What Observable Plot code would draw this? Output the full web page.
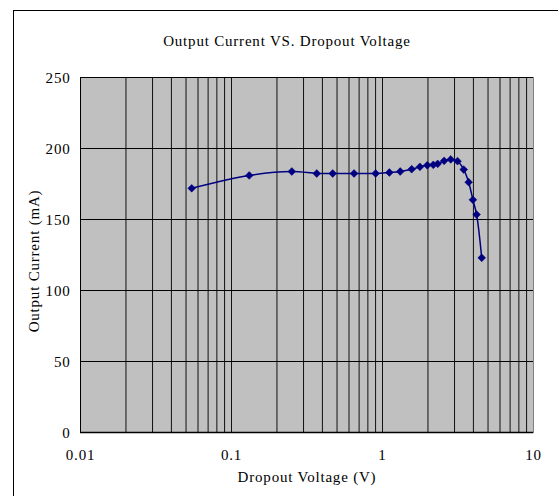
<!DOCTYPE html>
<html>
<head>
<meta charset="utf-8">
<script src="https://cdn.jsdelivr.net/npm/d3@7"></script>
<script src="https://cdn.jsdelivr.net/npm/@observablehq/plot@0.6"></script>
<style>
  html, body { margin: 0; padding: 0; background: #fff; }
  #wrap { position: relative; width: 558px; height: 496px; overflow: hidden; }
  #border { position: absolute; left: 13px; top: 10px; width: 700px; height: 700px;
            border-left: 1px solid #000; border-top: 1px solid #000; box-sizing: border-box; }
  #chart { position: absolute; left: 0; top: 0; }
  svg text { letter-spacing: 0.8px; }
</style>
</head>
<body>
<div id="wrap"><div id="border"></div><div id="chart"></div></div>
<script>
const title = "Output Current VS. Dropout Voltage";
const xLabel = "Dropout Voltage (V)";
const yLabel = "Output Current (mA)";

const dropoutVoltage = [0.0545, 0.131, 0.251, 0.367, 0.468, 0.648, 0.901, 1.11, 1.31, 1.56, 1.77, 1.98, 2.17, 2.32, 2.56, 2.83, 3.14, 3.45, 3.72, 3.97, 4.2, 4.54];
const outputCurrent  = [172.0, 181.0, 183.8, 182.4, 182.4, 182.4, 182.4, 183.1, 183.8, 185.4, 187.1, 188.2, 188.5, 189.2, 191.3, 192.3, 191.1, 185.2, 176.3, 163.9, 153.5, 123.0];

const xTicks = [0.01, 0.1, 1, 10];
const xTickLabels = ["0.01", "0.1", "1", "10"];
const yTicks = [0, 50, 100, 150, 200, 250];
const xDomain = [0.01, 10];
const yDomain = [0, 250];

const data = dropoutVoltage.map((v, i) => ({v, c: outputCurrent[i]}));
const gridX = d3.scaleLog().domain(xDomain).ticks().filter(t => t > xDomain[0] && t < xDomain[1]);
const gridY = yTicks.filter(t => t > yDomain[0] && t < yDomain[1]);

const font = "Liberation Serif";
const fs = 15;

const chart = Plot.plot({
  width: 558,
  height: 496,
  marginLeft: 80,
  marginRight: 25,
  marginTop: 77,
  marginBottom: 64,
  style: {fontFamily: font, fontSize: fs + "px", color: "#000", background: "transparent"},
  x: {type: "log", domain: xDomain},
  y: {domain: yDomain},
  marks: [
    Plot.frame({fill: "#c0c0c0", stroke: "#808080"}),
    Plot.ruleX(gridX, {stroke: "#111", strokeWidth: 1}),
    Plot.ruleY(gridY, {stroke: "#111", strokeWidth: 1}),
    Plot.ruleX([xDomain[0]], {stroke: "#000", strokeWidth: 1}),
    Plot.ruleY([yDomain[0]], {stroke: "#000", strokeWidth: 1.5}),
    Plot.axisX({ticks: xTicks, tickFormat: d => xTickLabels[xTicks.indexOf(d)], tickSize: 0, tickPadding: 17, label: null, fontSize: fs, fontFamily: font}),
    Plot.axisY({ticks: yTicks, tickSize: 0, tickPadding: 10, dy: 1, label: null, fontSize: fs, fontFamily: font}),
    Plot.tickY(yTicks, {x1: xDomain[0], x2: 0.0108, stroke: "#000"}),
    Plot.line(data, {x: "v", y: "c", curve: "catmull-rom", stroke: "#000080", strokeWidth: 1.5}),
    Plot.dot(data, {x: "v", y: "c", symbol: "square", rotate: 45, r: 3.1, fill: "#000080", stroke: "#000080", strokeWidth: 0.5}),
    Plot.text([title], {frameAnchor: "top", dx: -20, dy: -42, text: d => d, fontSize: fs, fontFamily: font, fill: "#000"}),
    Plot.text([xLabel], {frameAnchor: "bottom", dx: 0, dy: 49, text: d => d, fontSize: fs, fontFamily: font, fill: "#000"}),
    Plot.text([yLabel], {frameAnchor: "left", textAnchor: "middle", dx: -46, dy: 6, rotate: -90, text: d => d, fontSize: fs, fontFamily: font, fill: "#000"})
  ]
});
document.getElementById("chart").appendChild(chart);
</script>
</body>
</html>
